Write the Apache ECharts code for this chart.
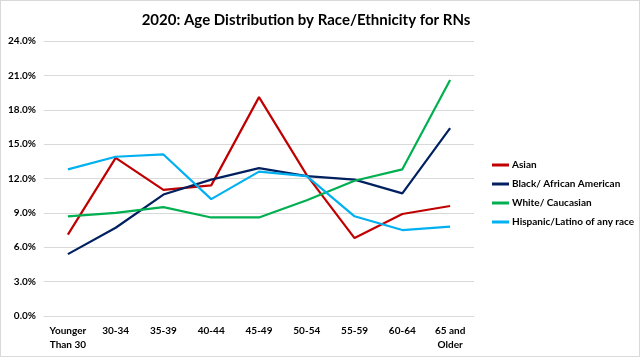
<!DOCTYPE html>
<html>
<head>
<meta charset="utf-8">
<script src="https://cdn.jsdelivr.net/npm/echarts@6/dist/echarts.min.js"></script>
<style>
html,body{margin:0;padding:0;background:#fff;}
#c{width:638px;height:355px;border:1px solid #d9d9d9;}
</style>
</head>
<body>
<div id="c"></div>
<script>
const categories = ["Younger\nThan 30","30-34","35-39","40-44","45-49","50-54","55-59","60-64","65 and\nOlder"];
const asian = [7.1, 13.8, 11.0, 11.4, 19.1, 12.3, 6.8, 8.9, 9.6];
const black = [5.4, 7.7, 10.6, 11.9, 12.9, 12.2, 11.9, 10.7, 16.4];
const white = [8.7, 9.0, 9.5, 8.6, 8.6, 10.1, 11.8, 12.8, 20.6];
const hispanic = [12.8, 13.9, 14.1, 10.2, 12.6, 12.2, 8.7, 7.5, 7.8];
const yTicks = {min: 0, max: 24, interval: 3};

const font = "Lato, 'Liberation Sans', sans-serif";
const chart = echarts.init(document.getElementById('c'));
function s(name, data, color){
  return {name, type:'line', data, symbol:'none', lineStyle:{width:2.2, color}, itemStyle:{color}};
}
chart.setOption({
  animation:false,
  title:{text:'2020: Age Distribution by Race/Ethnicity for RNs', left:300, textAlign:'center', top:7,
    textStyle:{fontFamily:font, fontSize:15, fontWeight:'bold', color:'#000'}},
  grid:{left:43, right:165, top:40, bottom:40, containLabel:false},
  legend:{orient:'vertical', left:486, top:154, itemWidth:17, itemHeight:3, itemGap:9, icon:'rect',
    textStyle:{fontFamily:font, fontSize:10, fontWeight:'bold', color:'#000', padding:[0,0,0,-2]},
    data:['Asian','Black/ African American','White/ Caucasian','Hispanic/Latino of any race']},
  xAxis:{type:'category', data:categories, boundaryGap:true,
    axisLine:{lineStyle:{color:'#d9d9d9'}}, axisTick:{show:false},
    axisLabel:{fontFamily:font, fontSize:10, fontWeight:'bold', color:'#000', margin:8, lineHeight:14, interval:0}},
  yAxis:{type:'value', min:yTicks.min, max:yTicks.max, interval:yTicks.interval,
    axisLine:{show:false}, axisTick:{show:false},
    splitLine:{lineStyle:{color:'#d9d9d9', width:1}},
    axisLabel:{fontFamily:font, fontSize:10, fontWeight:'bold', color:'#000', margin:8,
      formatter:v=>v.toFixed(1)+'%'}},
  series:[
    s('Asian', asian, '#c00000'),
    s('Black/ African American', black, '#002060'),
    s('White/ Caucasian', white, '#00b050'),
    s('Hispanic/Latino of any race', hispanic, '#00b0f0')
  ]
});
</script>
</body>
</html>
